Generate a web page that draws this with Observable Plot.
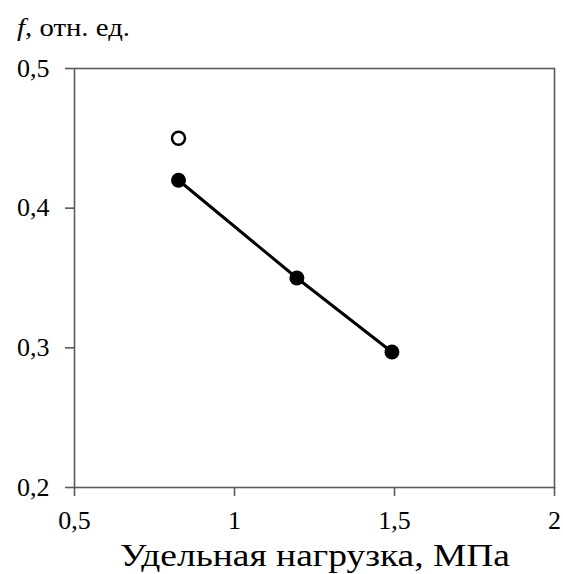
<!DOCTYPE html>
<html><head><meta charset="utf-8">
<script src="https://cdn.jsdelivr.net/npm/d3@7"></script>
<script src="https://cdn.jsdelivr.net/npm/@observablehq/plot@0.6"></script>
<style>body{margin:0;background:#fff} svg{display:block}</style>
</head><body><div id="chart"></div>
<script>
const loadX = [0.825, 1.195, 1.492];
const frictionY = [0.42, 0.35, 0.297];
const openX = [0.825];
const openY = [0.45];
const xTicks = [0.5, 1, 1.5, 2];
const yTicks = [0.2, 0.3, 0.4, 0.5];
const xLabel = "Удельная нагрузка, МПа";
const yLabelItalic = "f";
const yLabelRest = ", отн. ед.";

const fmt = d => String(d).replace(".", ",");
const filled = loadX.map((x, i) => ({x, y: frictionY[i]}));
const hollow = openX.map((x, i) => ({x, y: openY[i]}));
const axisColor = "#5a5a5a";
const serif = "'Liberation Serif', 'Times New Roman', serif";

const chart = Plot.plot({
  width: 563, height: 574,
  marginLeft: 74, marginRight: 9, marginTop: 68, marginBottom: 87,
  style: {fontFamily: serif, fontSize: "26px", background: "#fff", color: "#000"},
  x: {domain: [0.5, 2]},
  y: {domain: [0.2, 0.5]},
  marks: [
    Plot.frame({stroke: axisColor, strokeWidth: 1.6}),
    Plot.axisX({ticks: xTicks, tickFormat: fmt, tickSize: 9, tickPadding: 14, stroke: axisColor, strokeWidth: 1.6,
      label: null, fill: "#000"}),
    Plot.axisY({ticks: yTicks, tickFormat: fmt, tickSize: 9, tickPadding: 16, stroke: axisColor, strokeWidth: 1.6,
      label: null, fill: "#000"}),
    Plot.line(filled, {x: "x", y: "y", stroke: "#000", strokeWidth: 3}),
    Plot.dot(filled, {x: "x", y: "y", r: 7.5, fill: "#000", stroke: "none"}),
    Plot.dot(hollow, {x: "x", y: "y", r: 6.5, fill: "#fff", stroke: "#000", strokeWidth: 2.5})
  ]
});
document.getElementById("chart").appendChild(chart);

const svg = d3.select(chart);
const t = svg.append("text")
  .attr("x", 17).attr("y", 36)
  .attr("text-anchor", "start")
  .attr("font-family", serif)
  .attr("font-size", 26).attr("fill", "#000")
  .attr("textLength", 113).attr("lengthAdjust", "spacingAndGlyphs");
t.append("tspan").attr("font-style", "italic").text(yLabelItalic);
t.append("tspan").text(yLabelRest);

svg.append("text")
  .attr("x", 315).attr("y", 566)
  .attr("text-anchor", "middle")
  .attr("font-family", serif)
  .attr("font-size", 31).attr("fill", "#000")
  .attr("textLength", 390).attr("lengthAdjust", "spacingAndGlyphs")
  .text(xLabel);
</script>
</body></html>
